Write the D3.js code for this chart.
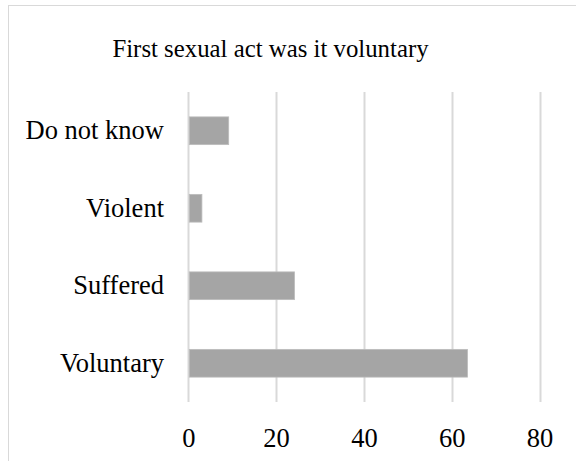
<!DOCTYPE html>
<html>
<head>
<meta charset="utf-8">
<script src="https://cdn.jsdelivr.net/npm/d3@7"></script>
<style>
  html, body { margin: 0; padding: 0; background: #fff; }
  svg { display: block; }
  text { font-family: "Liberation Serif", "Times New Roman", serif; fill: #000; }
</style>
</head>
<body>
<svg id="chart" width="576" height="461"></svg>
<script>
// Answers to "was the first sexual act voluntary", in percent
const categories = ["Do not know", "Violent", "Suffered", "Voluntary"];
const values = [9.2, 3.1, 24.2, 63.6];
const tickValues = [0, 20, 40, 60, 80];
const title = "First sexual act was it voluntary";

const serif = "'Liberation Serif', 'Times New Roman', serif";
const svg = d3.select("#chart");
const W = 576, H = 461;
const margin = { left: 188.3, right: W - 539.5, top: 92, bottom: H - 402 };

// Outer chart frame (extends past the right and bottom edges)
svg.append("rect")
  .attr("x", 8.5).attr("y", 5.5)
  .attr("width", 620).attr("height", 500)
  .attr("fill", "#fff").attr("stroke", "#d9d9d9").attr("stroke-width", 1);

const x = d3.scaleLinear().domain([0, 80]).range([margin.left, W - margin.right]);
const y = d3.scaleBand().domain(categories)
  .range([margin.top, H - margin.bottom])
  .paddingInner(0.642).paddingOuter(0.321);

// Vertical gridlines
svg.append("g")
  .selectAll("line")
  .data(tickValues)
  .join("line")
  .attr("x1", d => Math.round(x(d)) + 0.5)
  .attr("x2", d => Math.round(x(d)) + 0.5)
  .attr("y1", margin.top)
  .attr("y2", H - margin.bottom)
  .attr("stroke", "#d9d9d9")
  .attr("stroke-width", 2);

// Bars
svg.append("g")
  .selectAll("rect")
  .data(categories.map((c, i) => ({ c, v: values[i] })))
  .join("rect")
  .attr("x", x(0) + 1)
  .attr("y", d => y(d.c))
  .attr("width", d => x(d.v) - x(0) - 1)
  .attr("height", y.bandwidth())
  .attr("fill", "#a5a5a5")
  .attr("stroke", "#bcbcbc")
  .attr("stroke-width", 0.8);

// Category labels
svg.append("g")
  .selectAll("text")
  .data(categories)
  .join("text")
  .attr("x", 164)
  .attr("y", d => y(d) + y.bandwidth() / 2 + 8.5)
  .attr("text-anchor", "end")
  .style("font-family", serif)
  .style("font-size", "26.5px")
  .text(d => d);

// Value axis labels
const xAxis = d3.axisBottom(x).tickValues(tickValues).tickSize(0).tickPadding(0);
const gx = svg.append("g")
  .attr("transform", `translate(0, ${H - margin.bottom})`)
  .call(xAxis);
gx.select(".domain").remove();
gx.selectAll("text")
  .attr("dy", null)
  .attr("y", 45)
  .style("font-family", serif)
  .style("font-size", "26.5px")
  .style("fill", "#000");

// Title
svg.append("text")
  .attr("x", 270.5)
  .attr("y", 57)
  .attr("text-anchor", "middle")
  .style("font-family", serif)
  .style("font-size", "24.8px")
  .text(title);
</script>
</body>
</html>
